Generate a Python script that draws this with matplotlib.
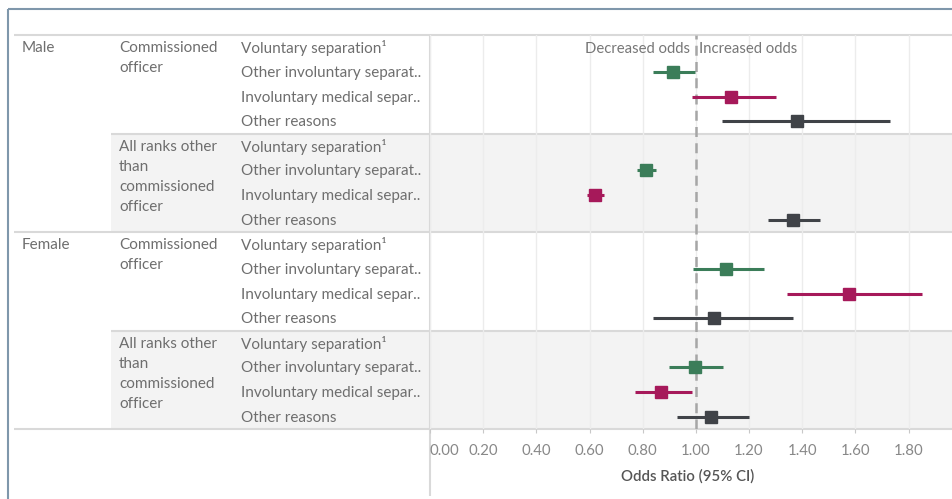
import numpy as np
import matplotlib.pyplot as plt
from matplotlib.patches import Rectangle

plt.rcParams['font.family'] = ['Lato', 'DejaVu Sans']

# data
genders = ['Male', 'Female']
ranks = [['Commissioned', 'officer'],
         ['All ranks other', 'than', 'commissioned', 'officer']]
reasons = ['Voluntary separation¹', 'Other involuntary separat..',
           'Involuntary medical separ..', 'Other reasons']
reason_colors = [None, '#3b7d59', '#a6195a', '#404348']

nan = np.nan
# one row per gender/rank block, one column per reason
odds = [[nan, 0.915, 1.131, 1.379],
        [nan, 0.814, 0.621, 1.364],
        [nan, 1.113, 1.577, 1.068],
        [nan, 0.995, 0.869, 1.058]]
ci_low = [[nan, 0.837, 0.984, 1.100],
          [nan, 0.780, 0.591, 1.271],
          [nan, 0.988, 1.343, 0.839],
          [nan, 0.897, 0.772, 0.930]]
ci_high = [[nan, 0.996, 1.301, 1.730],
           [nan, 0.849, 0.655, 1.466],
           [nan, 1.256, 1.849, 1.364],
           [nan, 1.103, 0.985, 1.201]]
x_ticks = [0.0, 0.2, 0.4, 0.6, 0.8, 1.0, 1.2, 1.4, 1.6, 1.8]

W, H = 953, 499
top, bottom = 35, 429
n_rows = 16
rh = (bottom - top) / n_rows
x_plot = 430
txt = '#6e6e6e'
line_c = '#d9d9d9'
fs = 11

fig = plt.figure(figsize=(W / 100, H / 100), dpi=100)

# background / table layer in pixel coordinates
bg = fig.add_axes([0, 0, 1, 1])
bg.set_xlim(0, W)
bg.set_ylim(H, 0)
bg.axis('off')

for g in range(2):
    y0 = top + g * 8 * rh
    bg.add_patch(Rectangle((111, y0 + 4 * rh), W - 111, 4 * rh,
                           color='#f3f3f3', lw=0, zorder=0))
    bg.hlines(y0, 14, W, color=line_c, lw=1.5, zorder=1)
    bg.hlines(y0 + 4 * rh, 111, W, color=line_c, lw=1.5, zorder=1)
    bg.text(22, y0 + rh / 2 + 1, genders[g], color=txt, fontsize=fs, va='center')
    for r in range(2):
        yb = y0 + r * 4 * rh
        for k, word in enumerate(ranks[r]):
            bg.text(119, yb + rh / 2 + 1 + k * 20, word, color=txt, fontsize=fs, va='center')
        for j, reason in enumerate(reasons):
            bg.text(241, yb + (j + 0.5) * rh + 1, reason, color=txt, fontsize=fs,
                    va='center')
bg.hlines(bottom, 14, W, color=line_c, lw=1.5, zorder=1)
bg.vlines(x_plot, top, 496, color=line_c, lw=1.5, zorder=3)

# outer frame
bg.hlines(9, 8, W, color='#7f97ab', lw=1.5)
bg.vlines(8, 9, H, color='#7f97ab', lw=1.5)

bg.text(688, 476, 'Odds Ratio (95% CI)', color='#555555', fontsize=10.8,
        fontweight='semibold', ha='center', va='center')

# forest plot
ax = fig.add_axes([x_plot / W, 1 - bottom / H, (W - x_plot) / W, (bottom - top) / H])
ax.set_facecolor('none')
ax.set_xlim(0, 1.967)
ax.set_ylim(n_rows, 0)
for s in ax.spines.values():
    s.set_visible(False)
ax.set_yticks([])
ax.set_xticks(x_ticks)
ax.set_xticklabels([f'{t:.2f}' for t in x_ticks])
ax.get_xticklabels()[0].set_ha('left')
ax.tick_params(axis='x', length=3, color='#c8c8c8', labelcolor='#888888',
               labelsize=10.8, pad=8)
ax.grid(axis='x', color='#ececec', lw=1)
ax.set_axisbelow(True)

ax.axvline(1.0, color='#a6a6a6', lw=1.8, ls=(0, (4, 2.5)), zorder=2)
ax.annotate('Decreased odds', xy=(1.0, 0.5), xytext=(-4, -1), textcoords='offset points',
            ha='right', va='center', color='#777777', fontsize=10.7)
ax.annotate('Increased odds', xy=(1.0, 0.5), xytext=(2.5, -1), textcoords='offset points',
            ha='left', va='center', color='#777777', fontsize=10.7)

for b in range(4):
    for j in range(4):
        if np.isnan(odds[b][j]):
            continue
        y = b * 4 + j + 0.5
        c = reason_colors[j]
        ax.plot([ci_low[b][j], ci_high[b][j]], [y, y], color=c, lw=2.2,
                solid_capstyle='butt', zorder=3)
        ax.plot(odds[b][j], y, marker='s', ms=9, color=c, mec=c, zorder=4)

fig.savefig('out.png', dpi=100)
